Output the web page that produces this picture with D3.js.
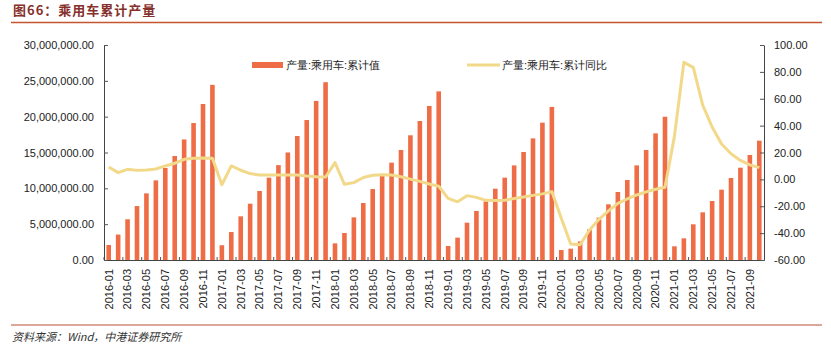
<!DOCTYPE html>
<html>
<head>
<meta charset="utf-8">
<script src="https://cdn.jsdelivr.net/npm/d3@7"></script>
<style>
body { margin: 0; background: #fff; }
svg text { font-family: "Liberation Sans", Arial, sans-serif; }
</style>
</head>
<body>
<div class="container"></div>
<script>
var WIDTH = 831, HEIGHT = 354;

var months = [
  '2016-01','2016-02','2016-03','2016-04','2016-05','2016-06','2016-07','2016-08','2016-09','2016-10','2016-11','2016-12',
  '2017-01','2017-02','2017-03','2017-04','2017-05','2017-06','2017-07','2017-08','2017-09','2017-10','2017-11','2017-12',
  '2018-01','2018-02','2018-03','2018-04','2018-05','2018-06','2018-07','2018-08','2018-09','2018-10','2018-11','2018-12',
  '2019-01','2019-02','2019-03','2019-04','2019-05','2019-06','2019-07','2019-08','2019-09','2019-10','2019-11','2019-12',
  '2020-01','2020-02','2020-03','2020-04','2020-05','2020-06','2020-07','2020-08','2020-09','2020-10','2020-11','2020-12',
  '2021-01','2021-02','2021-03','2021-04','2021-05','2021-06','2021-07','2021-08','2021-09','2021-10'
];

// 产量:乘用车:累计值
var production = [
  2090000, 3550000, 5680000, 7530000, 9300000, 11110000, 12840000, 14510000, 16820000, 19110000, 21770000, 24440000,
  2060000, 3900000, 6090000, 7860000, 9630000, 11490000, 13240000, 15000000, 17300000, 19530000, 22200000, 24810000,
  2320000, 3770000, 5950000, 7950000, 9900000, 11770000, 13580000, 15350000, 17400000, 19400000, 21490000, 23530000,
  1950000, 3120000, 5210000, 6840000, 8190000, 9950000, 11490000, 13200000, 15070000, 16970000, 19160000, 21360000,
  1400000, 1580000, 2600000, 4280000, 5910000, 7770000, 9490000, 11160000, 13200000, 15350000, 17670000, 19990000,
  1910000, 3020000, 4980000, 6650000, 8230000, 9810000, 11440000, 12880000, 14650000, 16650000
];

// 产量:乘用车:累计同比
var yoy = [
  9.2, 5.0, 7.5, 6.7, 7.0, 7.7, 10.0, 12.0, 14.9, 15.7, 15.9, 15.7,
  -4.0, 10.0, 6.8, 4.3, 3.3, 3.3, 3.3, 3.3, 3.3, 2.5, 2.0, 1.8,
  12.5, -3.7, -2.4, 1.4, 3.1, 3.5, 3.2, 2.0, 0.2, -1.5, -3.4, -5.1,
  -14.1, -16.7, -12.1, -13.4, -15.6, -15.8, -15.5, -14.2, -13.1, -11.9, -10.8, -9.1,
  -29.0, -48.1, -48.6, -37.7, -29.7, -23.5, -17.8, -14.6, -11.6, -9.3, -7.3, -5.8,
  32.0, 87.1, 83.3, 55.3, 39.0, 26.3, 19.1, 14.1, 10.8, 8.7
];

var leftTicks = [0, 5000000, 10000000, 15000000, 20000000, 25000000, 30000000];
var rightTicks = [-60, -40, -20, 0, 20, 40, 60, 80, 100];
var seriesNames = ['产量:乘用车:累计值', '产量:乘用车:累计同比'];
var titleText = '图66：乘用车累计产量';
var sourceText = '资料来源：Wind，中港证券研究所';

var BAR_COLOR = '#EE6D47';
var LINE_COLOR = '#F2D98A';
var CJK = '"Noto Sans CJK SC", "Noto Sans", sans-serif';

var plot = {left: 104, right: 764, top: 45, bottom: 260};

var loadChart = function () {
  var svg = d3.select('.container').append('svg')
    .attr('width', WIDTH)
    .attr('height', HEIGHT);

  // title + rules
  svg.append('text')
    .attr('x', 13).attr('y', 15)
    .style('font-family', CJK)
    .style('font-size', '13px')
    .style('font-weight', 'bold')
    .style('letter-spacing', '1px')
    .attr('fill', '#86302C')
    .text(titleText);

  svg.append('line')
    .attr('x1', 11).attr('x2', 822).attr('y1', 22.5).attr('y2', 22.5)
    .attr('stroke', '#C4552F').attr('stroke-width', 1.5);

  svg.append('line')
    .attr('x1', 11).attr('x2', 822).attr('y1', 325).attr('y2', 325)
    .attr('stroke', '#DCA699').attr('stroke-width', 2);

  svg.append('text')
    .attr('x', 12).attr('y', 341)
    .style('font-family', CJK)
    .style('font-size', '11px')
    .style('font-style', 'italic')
    .attr('fill', '#333')
    .text(sourceText);

  var x = d3.scaleBand()
    .domain(months)
    .range([plot.left, plot.right]);

  var yLeft = d3.scaleLinear()
    .domain([0, 30000000])
    .range([plot.bottom, plot.top]);

  var yRight = d3.scaleLinear()
    .domain([-60, 100])
    .range([plot.bottom, plot.top]);

  var barW = 4.6;

  // bars
  svg.append('g').selectAll('rect')
    .data(production)
    .enter()
    .append('rect')
    .attr('x', function (d, i) { return x(months[i]) + x.bandwidth() / 2 - barW / 2; })
    .attr('y', function (d) { return yLeft(d); })
    .attr('width', barW)
    .attr('height', function (d) { return yLeft(0) - yLeft(d); })
    .attr('fill', BAR_COLOR);

  // axes
  var xAxis = d3.axisBottom(x)
    .tickValues(months.filter(function (d, i) { return i % 2 === 0; }))
    .tickSizeInner(-3)
    .tickSizeOuter(0);

  var gx = svg.append('g')
    .attr('transform', 'translate(0,' + plot.bottom + ')')
    .call(xAxis);
  gx.selectAll('.tick line')
    .attr('transform', 'translate(' + (-x.bandwidth() / 2) + ',0)');
  gx.selectAll('.tick text')
    .attr('transform', 'rotate(-90)')
    .attr('x', -9)
    .attr('y', 0)
    .attr('dy', '0.35em')
    .style('text-anchor', 'end');

  var leftAxis = d3.axisLeft(yLeft)
    .tickValues(leftTicks)
    .tickSizeInner(-4)
    .tickSizeOuter(0)
    .tickPadding(10)
    .tickFormat(d3.format(',.2f'));

  svg.append('g')
    .attr('transform', 'translate(' + plot.left + ',0)')
    .call(leftAxis);

  var rightAxis = d3.axisRight(yRight)
    .tickValues(rightTicks)
    .tickSizeInner(-4)
    .tickSizeOuter(0)
    .tickPadding(10)
    .tickFormat(function (d) { return d.toFixed(2); });

  svg.append('g')
    .attr('transform', 'translate(' + plot.right + ',0)')
    .call(rightAxis);

  svg.selectAll('.domain').attr('stroke', '#444');
  svg.selectAll('.tick line').attr('stroke', '#555');
  svg.selectAll('.tick text')
    .attr('fill', '#222')
    .style('font-size', '11px')
    .style('font-family', '"Liberation Sans", Arial, sans-serif');

  // yoy line
  var line = d3.line()
    .x(function (d, i) { return x(months[i]) + x.bandwidth() / 2; })
    .y(function (d) { return yRight(d); });

  svg.append('path')
    .datum(yoy)
    .attr('d', line)
    .attr('fill', 'none')
    .attr('stroke', LINE_COLOR)
    .attr('stroke-width', 3)
    .attr('stroke-linejoin', 'round');

  // legend
  var legend = svg.append('g').style('font-family', CJK).style('font-size', '11px');
  legend.append('rect')
    .attr('x', 252).attr('y', 62).attr('width', 31).attr('height', 6)
    .attr('fill', BAR_COLOR);
  legend.append('text')
    .attr('x', 286).attr('y', 65).attr('dy', '0.35em')
    .attr('fill', '#222')
    .text(seriesNames[0]);
  legend.append('line')
    .attr('x1', 467).attr('x2', 500).attr('y1', 65).attr('y2', 65)
    .attr('stroke', LINE_COLOR).attr('stroke-width', 3);
  legend.append('text')
    .attr('x', 502).attr('y', 65).attr('dy', '0.35em')
    .attr('fill', '#222')
    .text(seriesNames[1]);
};

window.onload = loadChart;
</script>
</body>
</html>
